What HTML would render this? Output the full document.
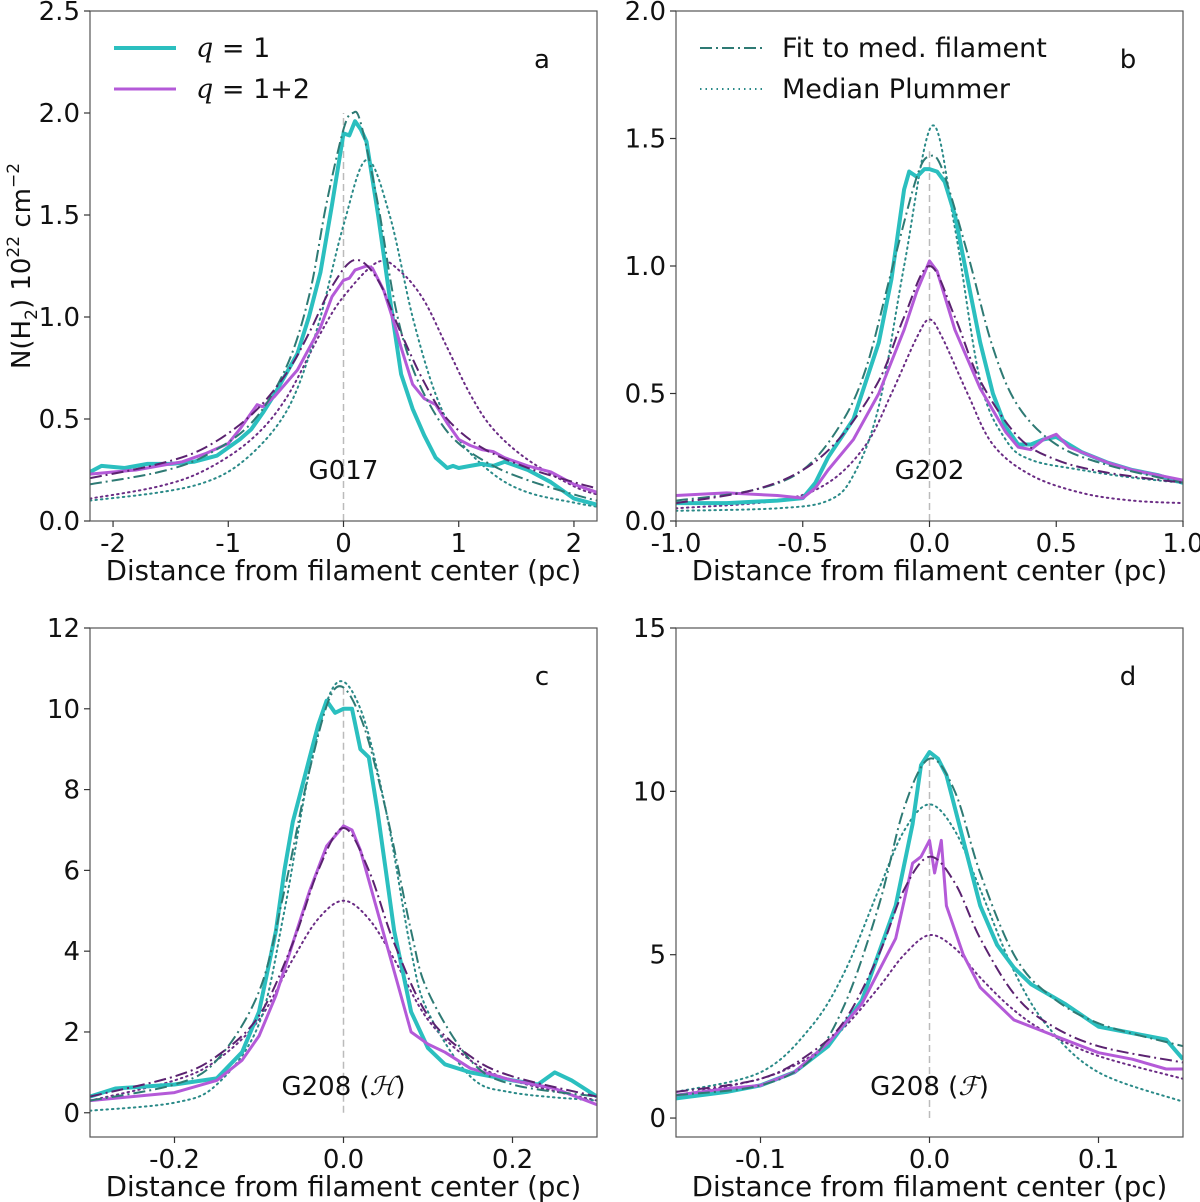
<!DOCTYPE html>
<html><head><meta charset="utf-8"><style>
body{margin:0;background:#fff}
svg{display:block;font-family:"DejaVu Sans","Liberation Sans",sans-serif}
</style></head><body>
<svg id="fig" width="1200" height="1202" viewBox="0 0 1200 1202" xmlns="http://www.w3.org/2000/svg"></svg>
<script>
// ===== Panel a data (G017) =====
const aQ1X=[-2.2,-2.1,-1.9,-1.7,-1.5,-1.3,-1.1,-0.9,-0.8,-0.7,-0.6,-0.5,-0.4,-0.3,-0.2,-0.1,0,0.05,0.1,0.15,0.2,0.3,0.4,0.5,0.6,0.7,0.8,0.9,0.95,1.0,1.1,1.2,1.3,1.4,1.6,1.8,1.9,2.0,2.2];
const aQ1Y=[0.24,0.27,0.26,0.28,0.28,0.29,0.32,0.40,0.45,0.53,0.62,0.72,0.82,1.00,1.22,1.55,1.90,1.89,1.96,1.92,1.86,1.50,1.10,0.72,0.55,0.42,0.31,0.26,0.27,0.26,0.27,0.28,0.27,0.29,0.25,0.19,0.15,0.11,0.08];
const aQ12X=[-2.2,-2.0,-1.8,-1.6,-1.4,-1.2,-1.0,-0.9,-0.8,-0.75,-0.7,-0.6,-0.4,-0.2,-0.1,0,0.05,0.1,0.2,0.25,0.35,0.45,0.5,0.6,0.7,0.8,0.9,1.0,1.1,1.2,1.3,1.4,1.6,1.8,2.0,2.2];
const aQ12Y=[0.23,0.24,0.25,0.27,0.29,0.33,0.38,0.45,0.53,0.57,0.56,0.61,0.74,0.95,1.10,1.18,1.19,1.23,1.25,1.24,1.13,0.95,0.85,0.67,0.60,0.57,0.48,0.40,0.37,0.35,0.34,0.31,0.27,0.24,0.18,0.14];
const aFit1X=[-2.2,-1.6,-1.2,-0.8,-0.5,-0.3,-0.15,0,0.08,0.15,0.3,0.45,0.6,0.8,1.0,1.3,1.6,2.0,2.2];
const aFit1Y=[0.18,0.24,0.32,0.48,0.75,1.10,1.55,1.92,2.00,1.95,1.55,1.05,0.75,0.52,0.38,0.27,0.20,0.13,0.10];
const aFit2X=[-2.2,-1.6,-1.2,-0.8,-0.5,-0.3,-0.1,0.1,0.3,0.5,0.7,0.9,1.2,1.6,2.0,2.2];
const aFit2Y=[0.21,0.28,0.36,0.52,0.72,0.92,1.15,1.28,1.18,0.92,0.68,0.50,0.36,0.26,0.19,0.16];
const aPl1X=[-2.2,-1.6,-1.2,-0.9,-0.6,-0.4,-0.2,0,0.2,0.4,0.6,0.8,1.0,1.3,1.6,2.0,2.2];
const aPl1Y=[0.10,0.14,0.19,0.28,0.45,0.65,1.00,1.45,1.77,1.50,1.00,0.62,0.40,0.23,0.14,0.09,0.07];
const aPl2X=[-2.2,-1.6,-1.2,-0.8,-0.5,-0.2,0,0.3,0.5,0.7,0.9,1.1,1.3,1.6,2.0,2.2];
const aPl2Y=[0.11,0.17,0.25,0.40,0.60,0.92,1.10,1.27,1.22,1.08,0.85,0.62,0.45,0.30,0.17,0.13];
// ===== Panel b data (G202) =====
const bQ1X=[-1,-0.8,-0.6,-0.5,-0.45,-0.4,-0.3,-0.2,-0.15,-0.1,-0.08,-0.05,-0.02,0,0.03,0.06,0.1,0.15,0.2,0.25,0.3,0.35,0.4,0.45,0.5,0.55,0.6,0.7,0.8,0.9,1.0];
const bQ1Y=[0.07,0.07,0.08,0.09,0.15,0.25,0.40,0.70,0.95,1.30,1.37,1.35,1.38,1.38,1.37,1.33,1.20,0.95,0.70,0.50,0.37,0.30,0.30,0.32,0.33,0.30,0.27,0.23,0.20,0.18,0.15];
const bQ12X=[-1,-0.8,-0.6,-0.5,-0.45,-0.4,-0.3,-0.2,-0.1,-0.05,0,0.03,0.1,0.2,0.3,0.35,0.4,0.45,0.5,0.55,0.6,0.7,0.8,0.9,1.0];
const bQ12Y=[0.10,0.11,0.10,0.09,0.13,0.20,0.32,0.50,0.75,0.90,1.02,0.98,0.75,0.52,0.35,0.29,0.28,0.32,0.34,0.29,0.27,0.23,0.20,0.18,0.16];
const bFit1X=[-1,-0.7,-0.5,-0.35,-0.25,-0.15,-0.05,0,0.05,0.15,0.25,0.35,0.5,0.7,1.0];
const bFit1Y=[0.08,0.12,0.20,0.38,0.60,0.98,1.35,1.43,1.38,1.05,0.68,0.45,0.30,0.22,0.15];
const bFit2X=[-1,-0.7,-0.5,-0.35,-0.2,-0.1,0,0.1,0.2,0.35,0.5,0.7,1.0];
const bFit2Y=[0.07,0.12,0.20,0.33,0.55,0.80,1.00,0.80,0.55,0.33,0.24,0.19,0.15];
const bPl1X=[-1,-0.6,-0.4,-0.3,-0.2,-0.1,0.01,0.1,0.2,0.3,0.4,0.6,0.8,1.0];
const bPl1Y=[0.04,0.05,0.08,0.18,0.45,1.00,1.55,1.15,0.55,0.32,0.24,0.20,0.17,0.15];
const bPl2X=[-1,-0.6,-0.4,-0.25,-0.15,-0.05,0,0.05,0.15,0.25,0.4,0.6,0.8,1.0];
const bPl2Y=[0.05,0.08,0.15,0.30,0.50,0.72,0.79,0.72,0.50,0.30,0.18,0.11,0.08,0.07];
// ===== Panel c data (G208 H) =====
const cQ1X=[-0.3,-0.27,-0.2,-0.15,-0.12,-0.1,-0.08,-0.07,-0.06,-0.05,-0.04,-0.03,-0.02,-0.01,0,0.01,0.02,0.03,0.04,0.05,0.06,0.07,0.08,0.1,0.12,0.15,0.2,0.23,0.25,0.27,0.3];
const cQ1Y=[0.4,0.6,0.7,0.85,1.5,2.5,4.5,6.0,7.2,8.0,8.8,9.6,10.2,9.9,10.0,10.0,9.0,8.8,7.5,6.0,4.5,3.5,2.5,1.6,1.2,1.0,0.8,0.7,1.0,0.8,0.4];
const cQ12X=[-0.3,-0.2,-0.15,-0.12,-0.1,-0.08,-0.06,-0.04,-0.02,0,0.01,0.02,0.04,0.06,0.08,0.1,0.12,0.15,0.2,0.25,0.3];
const cQ12Y=[0.3,0.5,0.8,1.3,1.9,2.9,4.2,5.5,6.6,7.1,7.0,6.5,5.0,3.5,2.0,1.7,1.5,1.1,0.8,0.6,0.2];
const cFit1X=[-0.3,-0.2,-0.15,-0.1,-0.07,-0.04,-0.01,0.02,0.05,0.08,0.1,0.15,0.2,0.3];
const cFit1Y=[0.3,0.7,1.3,3.0,5.5,8.5,10.5,9.8,7.5,4.5,3.0,1.3,0.7,0.4];
const cFit2X=[-0.3,-0.2,-0.15,-0.1,-0.06,-0.03,0,0.03,0.06,0.1,0.15,0.2,0.3];
const cFit2Y=[0.4,0.9,1.4,2.4,4.2,6.0,7.05,6.0,4.2,2.4,1.4,0.9,0.4];
const cPl1X=[-0.3,-0.2,-0.15,-0.1,-0.07,-0.04,-0.01,0.02,0.05,0.08,0.1,0.15,0.2,0.3];
const cPl1Y=[0.05,0.25,0.7,2.2,5.0,8.5,10.6,10.0,7.5,4.0,2.5,0.9,0.5,0.3];
const cPl2X=[-0.3,-0.2,-0.15,-0.1,-0.06,-0.03,0,0.03,0.06,0.1,0.15,0.2,0.3];
const cPl2Y=[0.3,0.8,1.3,2.3,3.8,4.8,5.25,4.8,3.8,2.3,1.3,0.8,0.3];
// ===== Panel d data (G208 F) =====
const dQ1X=[-0.15,-0.12,-0.1,-0.08,-0.06,-0.04,-0.02,-0.01,-0.005,0,0.005,0.01,0.02,0.03,0.04,0.05,0.06,0.08,0.1,0.12,0.14,0.15];
const dQ1Y=[0.6,0.8,1.0,1.4,2.2,3.6,6.5,9.0,10.8,11.2,11.0,10.5,8.5,6.5,5.3,4.6,4.1,3.5,2.8,2.6,2.4,1.8];
const dQ12X=[-0.15,-0.12,-0.1,-0.08,-0.06,-0.04,-0.02,-0.01,-0.005,0,0.003,0.007,0.01,0.02,0.03,0.05,0.07,0.1,0.12,0.14,0.15];
const dQ12Y=[0.7,0.9,1.0,1.4,2.3,3.5,5.5,7.8,8.0,8.5,7.5,8.5,6.5,5.0,4.0,3.0,2.6,2.0,1.8,1.5,1.5];
const dFit1X=[-0.15,-0.1,-0.07,-0.05,-0.03,-0.015,0,0.015,0.03,0.05,0.07,0.1,0.15];
const dFit1Y=[0.7,1.0,1.8,3.5,6.5,9.5,11.0,10.0,7.5,5.0,3.8,2.9,2.2];
const dFit2X=[-0.15,-0.1,-0.07,-0.05,-0.03,-0.015,0,0.015,0.03,0.05,0.07,0.1,0.15];
const dFit2Y=[0.8,1.2,2.0,3.0,5.0,7.0,8.0,7.2,5.5,3.8,2.9,2.2,1.7];
const dPl1X=[-0.15,-0.1,-0.07,-0.05,-0.03,-0.015,0,0.015,0.03,0.05,0.07,0.1,0.15];
const dPl1Y=[0.8,1.4,2.8,4.5,7.0,8.8,9.6,8.8,7.0,4.5,2.8,1.4,0.5];
const dPl2X=[-0.15,-0.1,-0.07,-0.05,-0.03,-0.015,0,0.015,0.03,0.05,0.07,0.1,0.15];
const dPl2Y=[0.7,1.2,1.9,2.8,4.0,5.0,5.6,5.2,4.3,3.3,2.6,1.9,1.2];
// ===== tick labels =====
const aXTicks=[-2,-1,0,1,2], aXLabels=["-2","-1","0","1","2"];
const aYTicks=[0,0.5,1,1.5,2,2.5], aYLabels=["0.0","0.5","1.0","1.5","2.0","2.5"];
const bXTicks=[-1,-0.5,0,0.5,1], bXLabels=["-1.0","-0.5","0.0","0.5","1.0"];
const bYTicks=[0,0.5,1,1.5,2], bYLabels=["0.0","0.5","1.0","1.5","2.0"];
const cXTicks=[-0.2,0,0.2], cXLabels=["-0.2","0.0","0.2"];
const cYTicks=[0,2,4,6,8,10,12], cYLabels=["0","2","4","6","8","10","12"];
const dXTicks=[-0.1,0,0.1], dXLabels=["-0.1","0.0","0.1"];
const dYTicks=[0,5,10,15], dYLabels=["0","5","10","15"];

const NS="http://www.w3.org/2000/svg";
const svg=document.getElementById('fig');
function mk(tag,attrs,parent){const e=document.createElementNS(NS,tag);for(const k in attrs)e.setAttribute(k,attrs[k]);(parent||svg).appendChild(e);return e;}
const CYAN="#2bbfbf",PURP="#b45ad8",TEALD="#2e7a74",PURD="#5b2270",TEALP="#2a8a88",PURPP="#6b2c85";

function smoothPath(P){
  let d='M'+P[0][0].toFixed(1)+','+P[0][1].toFixed(1);
  for(let i=0;i<P.length-1;i++){
    const p0=P[Math.max(0,i-1)],p1=P[i],p2=P[i+1],p3=P[Math.min(P.length-1,i+2)];
    const c1x=p1[0]+(p2[0]-p0[0])/6,c1y=p1[1]+(p2[1]-p0[1])/6;
    const c2x=p2[0]-(p3[0]-p1[0])/6,c2y=p2[1]-(p3[1]-p1[1])/6;
    d+=' C'+c1x.toFixed(1)+','+c1y.toFixed(1)+' '+c2x.toFixed(1)+','+c2y.toFixed(1)+' '+p2[0].toFixed(1)+','+p2[1].toFixed(1);
  }
  return d;
}

function panel(id,box,xr,yr,xt,xl,yt,yl,series,letter,gname,zeroTop){
  const g=mk('g',{});
  
  
  const sx=v=>box.x0+(v-xr[0])/(xr[1]-xr[0])*(box.x1-box.x0);
  const sy=v=>box.y1-(v-yr[0])/(yr[1]-yr[0])*(box.y1-box.y0);
  const clip=mk('clipPath',{id:'clip'+id},g);
  mk('rect',{x:box.x0,y:box.y0,width:box.x1-box.x0,height:box.y1-box.y0},clip);
  const zl=mk('line',{x1:sx(0),x2:sx(0),y1:sy(0),y2:sy(zeroTop),stroke:"#bbbbbb","stroke-width":1.5,"stroke-dasharray":"7,4"},g);
  
  
  const sg=mk('g',{'clip-path':'url(#clip'+id+')'},g);
  series.forEach(s=>{
    const P=s.x.map((v,i)=>[sx(v),sy(s.y[i])]);
    let p;
    if(s.d){
      p=mk('path',{d:smoothPath(P),fill:'none',stroke:s.c,'stroke-width':s.w,'stroke-dasharray':s.d,'stroke-linecap':s.d.startsWith('1.')?'round':'butt'},sg);
    } else {
      p=mk('polyline',{points:P.map(q=>q[0].toFixed(1)+','+q[1].toFixed(1)).join(' '),fill:'none',stroke:s.c,'stroke-width':s.w,'stroke-linejoin':'round'},sg);
    }
    
    
  });
  mk('rect',{x:box.x0,y:box.y0,width:box.x1-box.x0,height:box.y1-box.y0,fill:'none',stroke:'#555','stroke-width':1.2},g);
  xt.forEach((v,i)=>{
    mk('line',{x1:sx(v),x2:sx(v),y1:box.y1,y2:box.y1+6,stroke:'#333','stroke-width':1.2},g);
    const t=mk('text',{x:sx(v),y:box.y1+31,'font-size':26,'text-anchor':'middle',fill:'#111'},g);
    t.textContent=xl[i];
    
    
  });
  yt.forEach((v,i)=>{
    mk('line',{x1:box.x0-6,x2:box.x0,y1:sy(v),y2:sy(v),stroke:'#333','stroke-width':1.2},g);
    const t=mk('text',{x:box.x0-10,y:sy(v)+9,'font-size':26,'text-anchor':'end',fill:'#111'},g);
    t.textContent=yl[i];
    
    
  });
  const xa=mk('text',{x:(box.x0+box.x1)/2,y:box.y1+59,'font-size':27.5,'text-anchor':'middle',fill:'#111'},g);
  xa.textContent='Distance from filament center (pc)';
  
  
  const lt=mk('text',{x:box.x1-55,y:box.y0+57,'font-size':26,'text-anchor':'middle',fill:'#111'},g);
  lt.textContent=letter;
  
  
  const gt=mk('text',{x:sx(0),y:box.y1-42,'font-size':26,'text-anchor':'middle',fill:'#111'},g);
  gt.innerHTML=gname;
  
  
}
function S(x,y,c,w,d,n){return {x:x,y:y,c:c,w:w,d:d,n:n};}
const DD="12,4,2,4", DT="1.5,4";
panel('a',{x0:90,x1:597,y0:11,y1:521},[-2.2,2.2],[0,2.5],aXTicks,aXLabels,aYTicks,aYLabels,[
 S(aPl2X,aPl2Y,PURPP,2,DT,'plummer-q12'),S(aPl1X,aPl1Y,TEALP,2,DT,'plummer-q1'),
 S(aQ1X,aQ1Y,CYAN,4,'','profile-q1'),S(aQ12X,aQ12Y,PURP,3,'','profile-q12'),
 S(aFit1X,aFit1Y,TEALD,2,DD,'fit-q1'),S(aFit2X,aFit2Y,PURD,2,DD,'fit-q12')],'a','G017',2.0);
panel('b',{x0:676,x1:1183,y0:11,y1:521},[-1,1],[0,2],bXTicks,bXLabels,bYTicks,bYLabels,[
 S(bPl2X,bPl2Y,PURPP,2,DT,'plummer-q12'),S(bPl1X,bPl1Y,TEALP,2,DT,'plummer-q1'),
 S(bQ1X,bQ1Y,CYAN,4,'','profile-q1'),S(bQ12X,bQ12Y,PURP,3,'','profile-q12'),
 S(bFit1X,bFit1Y,TEALD,2,DD,'fit-q1'),S(bFit2X,bFit2Y,PURD,2,DD,'fit-q12')],'b','G202',1.45);
panel('c',{x0:90,x1:597,y0:628,y1:1137},[-0.3,0.3],[-0.6,12],cXTicks,cXLabels,cYTicks,cYLabels,[
 S(cPl2X,cPl2Y,PURPP,2,DT,'plummer-q12'),S(cPl1X,cPl1Y,TEALP,2,DT,'plummer-q1'),
 S(cQ1X,cQ1Y,CYAN,4,'','profile-q1'),S(cQ12X,cQ12Y,PURP,3,'','profile-q12'),
 S(cFit1X,cFit1Y,TEALD,2,DD,'fit-q1'),S(cFit2X,cFit2Y,PURD,2,DD,'fit-q12')],'c','G208 (<tspan font-style="italic" font-family="DejaVu Serif,serif">ℋ</tspan>)',10.5);
panel('d',{x0:676,x1:1183,y0:628,y1:1137},[-0.15,0.15],[-0.58,15],dXTicks,dXLabels,dYTicks,dYLabels,[
 S(dPl2X,dPl2Y,PURPP,2,DT,'plummer-q12'),S(dPl1X,dPl1Y,TEALP,2,DT,'plummer-q1'),
 S(dQ1X,dQ1Y,CYAN,4,'','profile-q1'),S(dQ12X,dQ12Y,PURP,3,'','profile-q12'),
 S(dFit1X,dFit1Y,TEALD,2,DD,'fit-q1'),S(dFit2X,dFit2Y,PURD,2,DD,'fit-q12')],'d','G208 (<tspan font-style="italic" font-family="DejaVu Serif,serif">ℱ</tspan>)',11);

const yt=mk('text',{x:0,y:0,'font-size':26,'text-anchor':'middle',fill:'#111',transform:'translate(30,266) rotate(-90)'});
yt.innerHTML='N(H<tspan font-size="17" dy="7">2</tspan><tspan dy="-7">) 10</tspan><tspan font-size="17" dy="-11">22</tspan><tspan dy="11"> cm</tspan><tspan font-size="17" dy="-11">−2</tspan>';



function legend(x,y,color,w,dash,label,name){
  const g=mk('g',{});
  
  
  mk('line',{x1:x,x2:x+62,y1:y,y2:y,stroke:color,'stroke-width':w,'stroke-dasharray':dash},g);
  const t=mk('text',{x:x+82,y:y+9,'font-size':27,fill:'#111'},g);
  t.innerHTML=label;
}
legend(114,48,CYAN,4,'','<tspan font-style="italic" font-family="DejaVu Serif,serif">q</tspan> = 1','legend-entry-q1');
legend(114,89,PURP,3,'','<tspan font-style="italic" font-family="DejaVu Serif,serif">q</tspan> = 1+2','legend-entry-q12');
legend(700,48,TEALD,2,DD,'Fit to med. filament','legend-entry-fit');
legend(700,89,TEALP,2,DT,'Median Plummer','legend-entry-plummer');
</script>
</body></html>
